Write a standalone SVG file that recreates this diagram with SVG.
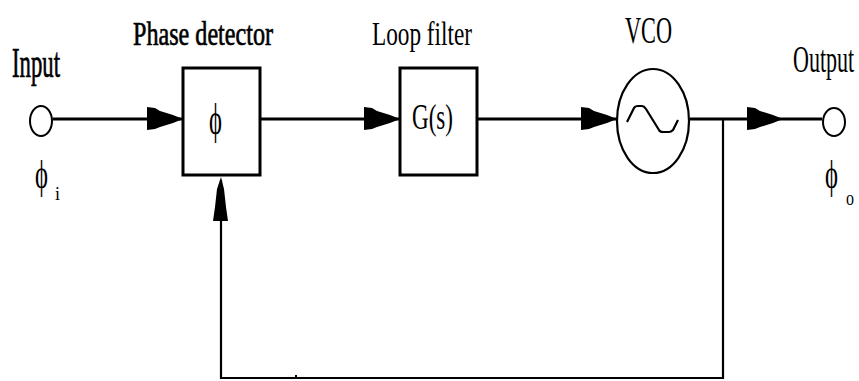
<svg xmlns="http://www.w3.org/2000/svg" xmlns:xlink="http://www.w3.org/1999/xlink" width="859" height="381" viewBox="0 0 859 381">
<style>
.lbl{font-family:"Liberation Serif","Times New Roman",serif;fill:#000;}
.hv{stroke:#000;stroke-width:0.7;}
.box{fill:#fff;stroke:#000;stroke-width:3;}
.ln{fill:none;stroke:#000;stroke-width:3;}
.fb{fill:none;stroke:#000;stroke-width:2.2;}
.port{fill:#fff;stroke:#000;stroke-width:2;}
</style>
<defs>
<path id="ah" d="M0,0 L-10,-4 L-23,-8 L-28,-11 L-36,-12 L-36,11 L-28,10 L-23,8 L-10,4 Z" fill="#000"/>
<path id="av" d="M0,0 L3,12 L5,30 L7,44 L-8,44 L-6,30 L-4,12 Z" fill="#000"/>
</defs>
<rect width="859" height="381" fill="#fff"/>

<g id="connectors">
<line class="ln" x1="53" y1="119" x2="183" y2="119"/>
<line class="ln" x1="260" y1="119" x2="400" y2="119"/>
<line class="ln" x1="477" y1="119" x2="617" y2="119"/>
<line class="ln" x1="690" y1="119" x2="822" y2="119"/>
<polyline class="fb" points="723,119 723,378 221,378 221,180"/>
<rect x="295" y="375" width="2" height="3" fill="#000"/>
<use xlink:href="#ah" transform="translate(183,119)"/>
<use xlink:href="#ah" transform="translate(400,119)"/>
<use xlink:href="#ah" transform="translate(617,119)"/>
<use xlink:href="#ah" transform="translate(783,119)"/>
<use xlink:href="#av" transform="translate(221,177)"/>
</g>

<g id="input">
<ellipse class="port" cx="41" cy="121" rx="11" ry="15"/>
<text class="lbl hv" x="12" y="77" font-size="42" textLength="48" lengthAdjust="spacingAndGlyphs">Input</text>
<text class="lbl" x="35" y="188" font-size="40" textLength="13" lengthAdjust="spacingAndGlyphs">ϕ</text>
<text class="lbl" x="55" y="200" font-size="18" textLength="5" lengthAdjust="spacingAndGlyphs">i</text>
</g>

<g id="phase-detector">
<rect class="box" x="183" y="68" width="77" height="107"/>
<text class="lbl hv" x="133" y="45" font-size="34" textLength="140" lengthAdjust="spacingAndGlyphs">Phase detector</text>
<text class="lbl" x="209" y="134" font-size="44" textLength="13" lengthAdjust="spacingAndGlyphs">ϕ</text>
</g>

<g id="loop-filter">
<rect class="box" x="400" y="68" width="77" height="107"/>
<text class="lbl" x="372" y="45" font-size="34" textLength="100" lengthAdjust="spacingAndGlyphs">Loop filter</text>
<text class="lbl" x="412" y="129" font-size="36" textLength="41" lengthAdjust="spacingAndGlyphs">G(s)</text>
</g>

<g id="vco">
<ellipse cx="653" cy="121" rx="36" ry="52" fill="#fff" stroke="#000" stroke-width="2.2"/>
<path d="M627,122 L634,108 Q635,106 638,106 L642,106 Q644,106 646,109 L659,130 Q660,132 663,132 L669,132 Q671,132 673,130 L678,120" fill="none" stroke="#000" stroke-width="2.2"/>
<text class="lbl" x="625" y="43" font-size="38" textLength="47" lengthAdjust="spacingAndGlyphs">VCO</text>
</g>

<g id="output">
<ellipse class="port" cx="834" cy="122" rx="11" ry="14"/>
<text class="lbl" transform="translate(793,72) scale(0.58,1)" font-size="38">Output</text>
<text class="lbl" x="825" y="188" font-size="40" textLength="13" lengthAdjust="spacingAndGlyphs">ϕ</text>
<text class="lbl" x="846" y="205" font-size="20" textLength="8" lengthAdjust="spacingAndGlyphs">o</text>
</g>
</svg>
